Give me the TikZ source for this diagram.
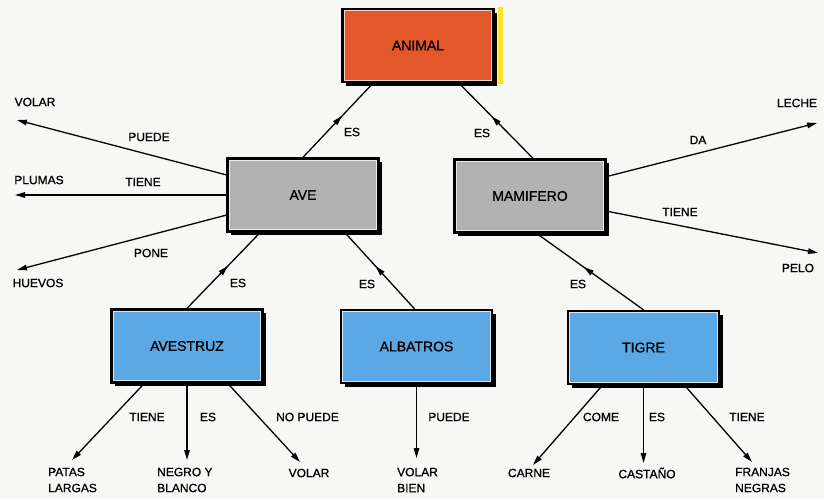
\documentclass[tikz,border=0pt]{standalone}
\usepackage{fontspec}
\setmainfont{Liberation Sans}[FakeBold=0.9]
\usetikzlibrary{arrows.meta,decorations.markings,shadows}

\definecolor{paper}{RGB}{247,247,245}
\definecolor{animalfill}{RGB}{226,88,42}
\definecolor{greyfill}{RGB}{178,178,178}
\definecolor{bluefill}{RGB}{92,168,228}
\definecolor{stripe}{RGB}{246,228,40}

\tikzset{
  concept/.style={draw=black, line width=2.4pt, minimum width=151pt,
    minimum height=73pt, inner sep=0pt, text=black,
    font=\fontsize{14}{16}\selectfont,
    drop shadow={shadow xshift=3.5pt, shadow yshift=-3.5pt, fill=black, opacity=1},
    path picture={\draw[white, opacity=0.75, line width=0.8pt]
      ([shift={(1.7pt,1.7pt)}]path picture bounding box.south west) rectangle
      ([shift={(-1.7pt,-1.7pt)}]path picture bounding box.north east);}},
  leaf/.style={font=\fontsize{12}{16}\selectfont, inner sep=0pt, align=left},
  lbl/.style={font=\fontsize{12}{14}\selectfont, inner sep=0pt},
  rel/.style={line width=1.3pt, -{Triangle[length=10pt,width=5.5pt]}},
  isa/.style={line width=1.3pt,
    decoration={markings, mark=at position 0.56 with {\arrow{Triangle[length=10pt,width=5.5pt]}}},
    postaction={decorate}}
}

\begin{document}
\begin{tikzpicture}[x=1pt,y=-1pt]
\fill[paper] (0,0) rectangle (824,499);
\useasboundingbox (0,0) rectangle (824,499);

% concept boxes
\node[concept, fill=animalfill] (animal)   at (418,45.5)  {ANIMAL};
\node[concept, fill=greyfill]   (ave)      at (303,195)   {AVE};
\node[concept, fill=greyfill]   (mamifero) at (530,196)   {MAMIFERO};
\node[concept, fill=bluefill]   (avestruz) at (187,346)   {AVESTRUZ};
\node[concept, fill=bluefill]   (albatros) at (416.5,346.5) {ALBATROS};
\node[concept, fill=bluefill]   (tigre)    at (643.5,347.5) {TIGRE};

% yellow edge beside the top box
\fill[stripe] ([xshift=3.4pt,yshift=0.5pt]animal.north east) rectangle ([xshift=8.5pt,yshift=-1pt]animal.south east);

% "ES" links (arrow in the middle of the line)
\draw[isa] (ave.north) -- ([xshift=-45pt]animal.south);
\draw[isa] ([xshift=3pt]mamifero.north) -- ([xshift=41pt]animal.south);
\draw[isa] (avestruz.north) -- ([xshift=-43pt]ave.south);
\draw[isa] ([xshift=-2pt]albatros.north) -- ([xshift=42pt]ave.south);
\draw[isa] (tigre.north) -- ([xshift=7pt]mamifero.south);

\node[lbl] (es1) at (352,132) {ES};
\node[lbl] (es2) at (482,133) {ES};
\node[lbl] (es3) at (238,283) {ES};
\node[lbl] (es4) at (367,284) {ES};
\node[lbl] (es5) at (578,284) {ES};

% free ends of the property arrows
\coordinate (tVolar)   at (17,120);
\coordinate (tPlumas)  at (15,195);
\coordinate (tHuevos)  at (17,270);
\coordinate (tLeche)   at (817,123);
\coordinate (tPelo)    at (818,253);
\coordinate (tPatas)   at (72,460);
\coordinate (tNegro)   at (187,460);
\coordinate (tVolarN)  at (300,462);
\coordinate (tVolarB)  at (416.5,458);
\coordinate (tCarne)   at (533,465);
\coordinate (tCastano) at (643.5,463);
\coordinate (tFranjas) at (752,462);

% AVE properties
\draw[rel] (ave) -- (tVolar);
\draw[rel] (ave) -- (tPlumas);
\draw[rel] (ave) -- (tHuevos);
\node[lbl] (lPuede1) at (149,137) {PUEDE};
\node[lbl] (lTiene1) at (143,182) {TIENE};
\node[lbl] (lPone)   at (151,253) {PONE};
\node[leaf] (volar1)  at (35,102)  {VOLAR};
\node[leaf] (plumas)  at (39,180)  {PLUMAS};
\node[leaf] (huevos)  at (38,283)  {HUEVOS};

% MAMIFERO properties
\draw[rel] (mamifero) -- (tLeche);
\draw[rel] (mamifero) -- (tPelo);
\node[lbl] (lDa)     at (698,140) {DA};
\node[lbl] (lTiene2) at (680,212) {TIENE};
\node[leaf] (leche) at (797,103) {LECHE};
\node[leaf] (pelo)  at (798,268) {PELO};

% AVESTRUZ properties
\draw[rel] ([xshift=-43pt]avestruz.south) -- (tPatas);
\draw[rel] (avestruz.south) -- (tNegro);
\draw[rel] ([xshift=41pt]avestruz.south) -- (tVolarN);
\node[lbl] (lTiene3)  at (147,417) {TIENE};
\node[lbl] (lEs6)     at (208,417) {ES};
\node[lbl] (lNoPuede) at (307.5,417) {NO PUEDE};
\node[leaf, anchor=west] (patas) at (48,480)  {PATAS\\LARGAS};
\node[leaf, anchor=west] (negro) at (157,480) {NEGRO Y\\BLANCO};
\node[leaf] (volar2) at (309,473) {VOLAR};

% ALBATROS properties
\draw[rel] (albatros.south) -- (tVolarB);
\node[lbl] (lPuede2) at (449,417) {PUEDE};
\node[leaf, anchor=west] (volarbien) at (397,480) {VOLAR\\BIEN};

% TIGRE properties
\draw[rel] ([xshift=-41pt]tigre.south) -- (tCarne);
\draw[rel] (tigre.south) -- (tCastano);
\draw[rel] ([xshift=41pt]tigre.south) -- (tFranjas);
\node[lbl] (lCome)   at (601,417) {COME};
\node[lbl] (lEs7)    at (657,417) {ES};
\node[lbl] (lTiene4) at (747,417) {TIENE};
\node[leaf] (carne)   at (529,473) {CARNE};
\node[leaf] (castano) at (647,473) {CASTAÑO};
\node[leaf, anchor=west] (franjas) at (735,480) {FRANJAS\\NEGRAS};
\end{tikzpicture}
\end{document}
